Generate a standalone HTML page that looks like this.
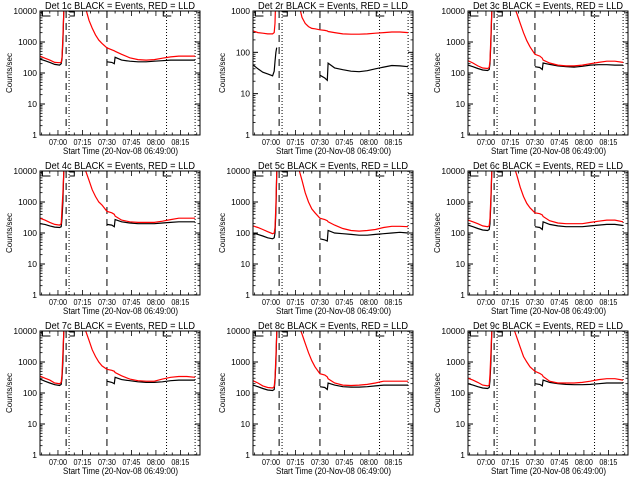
<!DOCTYPE html>
<html><head><meta charset="utf-8"><style>
html,body{margin:0;padding:0;background:#fff;}
svg{display:block;font-family:"Liberation Sans",sans-serif;}
</style></head><body>
<svg id="chart" width="640" height="480" viewBox="0 0 640 480" xmlns="http://www.w3.org/2000/svg"></svg>
<script>
const T = [0,3,6,9,12,13,13.5,14,14.5,15,27,28,30,32,34,36,38,41,44,45.5,46,50,55,60,65,70,75,80,85,90,95];
const N = null;
const panelTitles = ["Det 1c","Det 2r","Det 3c","Det 4c","Det 5c","Det 6c","Det 7c","Det 8c","Det 9c"];
const yMaxDecades = [4,3,4,4,4,4,4,4,4];
const red1 = [350,300,260,220,215,220,320,1500,8000,30000,30000,12000,5000,2800,1700,1150,900,650,560,520,500,400,310,270,260,270,300,330,350,350,350];
const blk1 = [280,250,220,190,180,200,280,1000,8000,30000,N,N,N,N,N,N,N,230,220,200,320,260,240,230,230,240,250,260,260,260,260];
const red2 = [330,300,290,280,280,300,500,3000,8000,30000,30000,1500,700,500,420,380,370,350,340,330,320,300,280,275,275,280,290,300,310,310,300];
const blk2 = [50,40,33,30,27,35,60,100,130,N,N,N,N,N,N,N,N,28,24,21,55,42,38,35,34,36,40,44,48,47,45];
const red3 = [250,210,170,145,140,150,250,1500,8000,30000,30000,15000,8000,4000,2000,1100,700,400,350,300,260,210,180,170,170,180,200,220,240,240,220];
const blk3 = [180,160,140,125,120,130,200,1000,8000,30000,N,N,N,N,N,N,N,160,150,130,210,190,170,160,155,165,180,185,185,180,180];
const red4 = [300,260,220,190,180,200,600,2000,8000,30000,30000,10000,5000,2500,1500,1000,800,500,450,400,350,260,230,220,220,220,240,270,300,300,300];
const blk4 = [200,190,170,155,150,160,300,1000,8000,30000,N,N,N,N,N,N,N,190,180,160,270,230,210,200,200,200,210,220,230,230,230];
const red5 = [170,150,130,110,95,100,150,800,8000,30000,30000,12000,5000,2000,1000,600,450,300,270,250,230,180,140,120,115,120,130,150,165,165,160];
const blk5 = [100,90,80,70,65,70,100,500,8000,30000,N,N,N,N,N,N,N,65,60,55,120,100,95,90,85,85,90,95,100,105,100];
const red6 = [260,230,200,170,160,170,300,1500,8000,30000,30000,15000,7000,3000,1500,900,650,450,420,380,340,250,210,200,200,200,220,240,260,260,230];
const blk6 = [180,160,140,125,120,130,200,1000,8000,30000,N,N,N,N,N,N,N,160,150,130,230,190,170,160,160,160,170,180,190,190,175];
const red7 = [350,300,260,210,200,220,400,2000,8000,30000,30000,10000,5000,2500,1500,1000,750,580,540,500,460,360,280,250,240,240,280,320,340,340,320];
const blk7 = [280,240,210,185,175,190,300,1000,8000,30000,N,N,N,N,N,N,N,240,220,200,320,270,250,230,220,220,230,250,260,260,260];
const red8 = [250,210,170,150,145,160,300,1500,8000,30000,30000,15000,8000,4000,2000,1100,700,420,380,330,290,210,180,175,180,190,210,240,240,240,240];
const blk8 = [180,160,140,125,120,130,250,1000,8000,30000,N,N,N,N,N,N,N,160,150,130,210,180,160,155,155,160,170,180,180,180,180];
const red9 = [300,260,220,180,170,180,400,2000,8000,30000,30000,12000,6000,3000,1500,1000,700,500,430,380,340,240,210,210,210,220,240,270,290,290,260];
const blk9 = [200,180,160,145,140,150,250,1000,8000,30000,N,N,N,N,N,N,N,200,190,170,260,220,200,190,185,185,190,200,210,210,210];
const redSeries = [red1,red2,red3,red4,red5,red6,red7,red8,red9];
const blackSeries = [blk1,blk2,blk3,blk4,blk5,blk6,blk7,blk8,blk9];
const xTickMinutes = [11,26,41,56,71,86];
const xTickLabels = ["07:00","07:15","07:30","07:45","08:00","08:15"];
const dashedMinutes = [16,41];
const dottedMinutes = [17.8,77.5,95];

const NS = "http://www.w3.org/2000/svg";
const svg = document.getElementById("chart");
function mk(tag, attrs, parent){const e=document.createElementNS(NS,tag);for(const k in attrs)e.setAttribute(k,attrs[k]);(parent||svg).appendChild(e);return e;}

const colX = [40,253,468], rowY = [11,171,331], W = 160, H = 124, XMAX = 98;

for (let p=0;p<9;p++){
  const x0 = colX[p%3], y0 = rowY[Math.floor(p/3)];
  const dec = yMaxDecades[p];
  const g = mk("g",{});
  
  
  const xs = m => x0 + m/XMAX*W;
  const ys = v => y0 + H - Math.log10(v)/dec*H;
  const cid = "clip"+p;
  const cp = mk("clipPath",{id:cid},g); mk("rect",{x:x0,y:y0,width:W,height:H},cp);
  const tt = mk("text",{x:x0+5,y:y0-2,"font-size":"10",textLength:"150",lengthAdjust:"spacingAndGlyphs"},g);
  tt.textContent = panelTitles[p]+" BLACK = Events, RED = LLD";
  
  
  for (let d=0; d<=dec; d++){
    const y = ys(Math.pow(10,d));
    const lb = mk("text",{x:x0-3,y:y+3,"text-anchor":"end","font-size":"8.5"},g);
    lb.textContent = String(Math.pow(10,d));
    
    
    mk("line",{x1:x0,x2:x0+5,y1:y,y2:y,stroke:"#000"},g);
    mk("line",{x1:x0+W,x2:x0+W-5,y1:y,y2:y,stroke:"#000"},g);
    if (d<dec) for (let k=2;k<10;k++){
      const ym = ys(k*Math.pow(10,d));
      mk("line",{x1:x0,x2:x0+2.5,y1:ym,y2:ym,stroke:"#000","stroke-width":0.8},g);
      mk("line",{x1:x0+W,x2:x0+W-2.5,y1:ym,y2:ym,stroke:"#000","stroke-width":0.8},g);
    }
  }
  const yl = mk("text",{x:0,y:0,"text-anchor":"middle","font-size":"8",transform:`translate(${x0-28},${y0+H/2}) rotate(-90)`},g);
  yl.textContent = "Counts/sec";
  
  
  for (let m=1;m<XMAX;m+=5){
    const x = xs(m);
    const major = xTickMinutes.includes(m);
    const L = major?5:2.5;
    mk("line",{x1:x,x2:x,y1:y0+H,y2:y0+H-L,stroke:"#000","stroke-width":0.8},g);
    mk("line",{x1:x,x2:x,y1:y0,y2:y0+L,stroke:"#000","stroke-width":0.8},g);
  }
  xTickMinutes.forEach((m,i)=>{
    const lb = mk("text",{x:xs(m)-9,y:y0+H+10,"font-size":"8",textLength:"18",lengthAdjust:"spacingAndGlyphs"},g);
    lb.textContent = xTickLabels[i];
    
    
  });
  const xl = mk("text",{x:x0+23,y:y0+H+19,"font-size":"9.5",textLength:"115",lengthAdjust:"spacingAndGlyphs"},g);
  xl.textContent = "Start Time (20-Nov-08 06:49:00)";
  
  
  dashedMinutes.forEach(m=>{mk("line",{x1:xs(m),x2:xs(m),y1:y0,y2:y0+H,stroke:"#000","stroke-dasharray":"7,5"},g);});
  dottedMinutes.forEach(m=>{mk("line",{x1:xs(m),x2:xs(m),y1:y0,y2:y0+H,stroke:"#000","stroke-dasharray":"1,2"},g);});
  [1.5,75.5].forEach(m=>{mk("path",{d:`M${xs(m)},${y0} V${y0+5} H${xs(m)+8}`,fill:"none",stroke:"#000"},g);});
  mk("path",{d:`M${xs(18)},${y0+1} H${xs(21)} V${y0+5} H${xs(18)}`,fill:"none",stroke:"#000"},g);
  [[blackSeries[p],"#000","black-series"],[redSeries[p],"#f00","red-series"]].forEach(([arr,col,nm])=>{
    let d="", pen=false;
    arr.forEach((v,i)=>{
      if (v===null){pen=false;return;}
      d += (pen?"L":"M")+xs(T[i]).toFixed(1)+","+ys(v).toFixed(1)+" ";
      pen=true;
    });
    const pth = mk("path",{d:d,fill:"none",stroke:col,"stroke-width":1.2,"clip-path":`url(#${cid})`},g);
    
    
  });
  mk("rect",{x:x0,y:y0,width:W,height:H,fill:"none",stroke:"#000"},g);
}
</script>
</body></html>
